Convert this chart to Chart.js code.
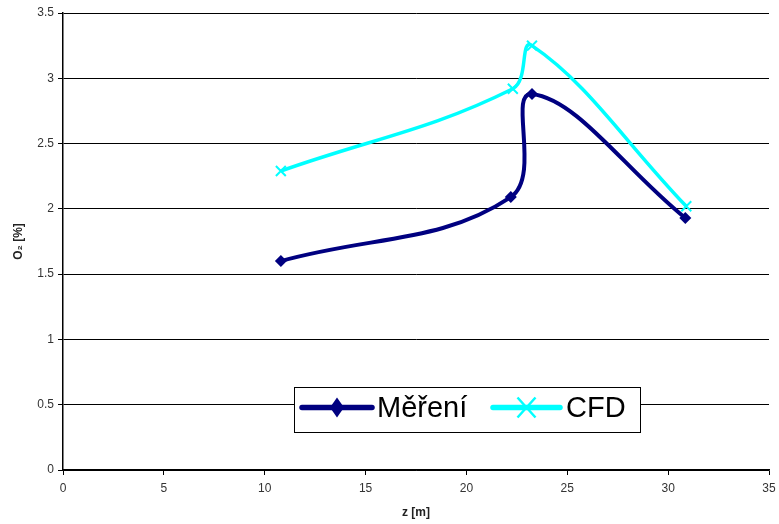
<!DOCTYPE html>
<html>
<head>
<meta charset="utf-8">
<script src="https://cdn.jsdelivr.net/npm/chart.js@4/dist/chart.umd.min.js"></script>
<style>
  html, body { margin: 0; padding: 0; background: #fff; }
  #wrap { width: 779px; height: 524px; }
</style>
</head>
<body>
<div id="wrap"><canvas id="o2-chart" width="779" height="524"></canvas></div>
<script>
const zMereni = [10.8, 22.2, 23.25, 30.85];
const o2Mereni = [1.60, 2.09, 2.88, 1.93];
const zCfd = [10.8, 22.3, 23.25, 30.9];
const o2Cfd = [2.29, 2.92, 3.25, 2.02];
const xTicks = [0, 5, 10, 15, 20, 25, 30, 35];
const yTicks = [0, 0.5, 1, 1.5, 2, 2.5, 3, 3.5];
const seriesLabels = ["Měření", "CFD"];

const FONT = "Arial, 'Liberation Sans', sans-serif";
const NAVY = "#000080";
const CYAN = "#00ffff";

function toPoints(xs, ys) {
  return xs.map((x, i) => ({ x, y: ys[i] }));
}

// legend drawn as a boxed overlay in the lower middle of the plot
const boxLegend = {
  id: "boxLegend",
  afterDraw(chart) {
    const ctx = chart.ctx;
    const left = 294, top = 387, width = 346, height = 45;
    const midY = top + height / 2 - 2;
    ctx.save();
    ctx.fillStyle = "#fff";
    ctx.fillRect(left, top, width, height);
    ctx.strokeStyle = "#000";
    ctx.lineWidth = 1;
    ctx.strokeRect(left + 0.5, top + 0.5, width, height);

    const items = [
      { x0: 302, x1: 372, textX: 377, color: NAVY, marker: "diamond" },
      { x0: 493, x1: 560, textX: 566, color: CYAN, marker: "cross" },
    ];
    items.forEach((item, i) => {
      ctx.strokeStyle = item.color;
      ctx.lineWidth = 5.5;
      ctx.lineCap = "round";
      ctx.beginPath();
      ctx.moveTo(item.x0, midY);
      ctx.lineTo(item.x1, midY);
      ctx.stroke();
      const cx = (item.x0 + item.x1) / 2;
      if (item.marker === "diamond") {
        ctx.fillStyle = item.color;
        ctx.beginPath();
        ctx.moveTo(cx, midY - 10);
        ctx.lineTo(cx + 7, midY);
        ctx.lineTo(cx, midY + 10);
        ctx.lineTo(cx - 7, midY);
        ctx.closePath();
        ctx.fill();
      } else {
        ctx.lineWidth = 2.5;
        ctx.lineCap = "butt";
        ctx.beginPath();
        ctx.moveTo(cx - 9, midY - 10);
        ctx.lineTo(cx + 9, midY + 10);
        ctx.moveTo(cx + 9, midY - 10);
        ctx.lineTo(cx - 9, midY + 10);
        ctx.stroke();
      }
      ctx.fillStyle = "#000";
      ctx.font = "29px " + FONT;
      ctx.textBaseline = "middle";
      ctx.textAlign = "left";
      ctx.fillText(seriesLabels[i], item.textX, midY + 1);
    });
    ctx.restore();
  },
};

const ctx = document.getElementById("o2-chart").getContext("2d");
new Chart(ctx, {
  type: "scatter",
  data: {
    datasets: [
      {
        label: seriesLabels[0],
        data: toPoints(zMereni, o2Mereni),
        showLine: true,
        borderColor: NAVY,
        backgroundColor: NAVY,
        borderWidth: 4,
        tension: 0.4,
        pointStyle: "rectRot",
        pointRadius: 6,
        pointBorderWidth: 0,
      },
      {
        label: seriesLabels[1],
        data: toPoints(zCfd, o2Cfd),
        showLine: true,
        borderColor: CYAN,
        backgroundColor: CYAN,
        borderWidth: 3.5,
        tension: 0.4,
        pointStyle: "crossRot",
        pointRadius: 7,
        pointBorderWidth: 2,
      },
    ],
  },
  options: {
    responsive: false,
    animation: false,
    layout: { padding: { top: 13, right: 0, left: 0, bottom: 0 } },
    plugins: {
      legend: { display: false },
      tooltip: { enabled: false },
    },
    scales: {
      x: {
        type: "linear",
        min: 0,
        max: 35,
        afterBuildTicks: (scale) => { scale.ticks = xTicks.map((v) => ({ value: v })); },
        afterFit: (scale) => {
          scale.height = 54;
          scale.paddingRight = 10;
        },
        grid: { drawOnChartArea: false, color: "#000", tickLength: 5 },
        border: { color: "#000", width: 1.5 },
        ticks: { color: "#333", font: { family: FONT, size: 12 }, padding: 6, maxRotation: 0 },
        title: {
          display: true,
          text: "z [m]",
          color: "#222",
          font: { family: FONT, size: 12, weight: "bold" },
          padding: 4,
        },
      },
      y: {
        type: "linear",
        min: 0,
        max: 3.5,
        afterBuildTicks: (scale) => { scale.ticks = yTicks.map((v) => ({ value: v })); },
        afterFit: (scale) => { scale.width = 63; },
        grid: { color: "#000", lineWidth: 1, tickLength: 5 },
        border: { color: "#000", width: 1.5 },
        ticks: {
          color: "#333",
          font: { family: FONT, size: 12 },
          padding: 4,
          callback: (value) => String(value),
        },
        title: {
          display: true,
          text: "O₂ [%]",
          color: "#222",
          font: { family: FONT, size: 12, weight: "bold" },
          padding: 11,
        },
      },
    },
  },
  plugins: [boxLegend],
});
</script>
</body>
</html>
